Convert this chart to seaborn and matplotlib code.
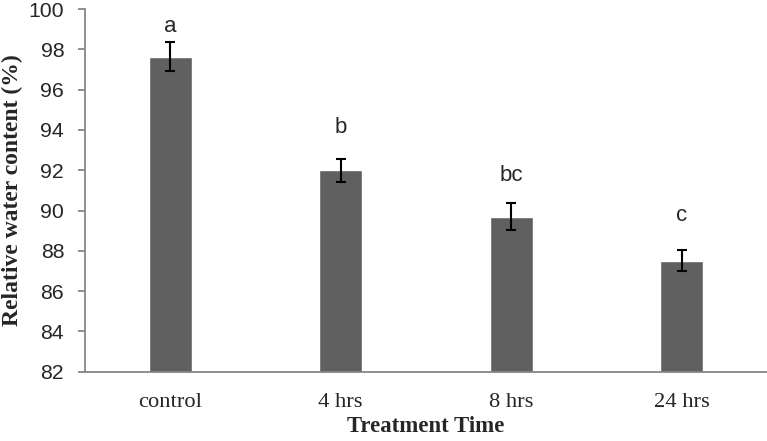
import pandas as pd
import numpy as np
import matplotlib
matplotlib.use('Agg')
import matplotlib.pyplot as plt
import seaborn as sns

# Data
treatments = ['control', '4 hrs', '8 hrs', '24 hrs']
rwc_mean = [97.63, 92.0, 89.69, 87.51]
rwc_err = [0.71, 0.58, 0.68, 0.51]
letters = ['a', 'b', 'bc', 'c']
letter_y = [99.15, 94.1, 91.75, 89.75]

BAR_COLOR = '#606060'
AXIS_COLOR = '#868686'

df = pd.DataFrame({'Treatment': treatments, 'RWC': rwc_mean})

sns.set_style('white')
fig = plt.figure(figsize=(7.67, 4.41), dpi=100)
ax = fig.add_axes([85 / 767, 1 - 371.7 / 441, 1 - 85 / 767, (371.7 - 9) / 441])

sns.barplot(data=df, x='Treatment', y='RWC', color=BAR_COLOR, width=0.25,
            saturation=1, ax=ax, errorbar=None)
ax.errorbar(np.arange(len(treatments)), rwc_mean, yerr=rwc_err, fmt='none',
            ecolor='black', elinewidth=1.5, capsize=3.6, capthick=1.5, zorder=3)

for i, (lab, y) in enumerate(zip(letters, letter_y)):
    ax.text(i, y, lab, ha='center', va='center', fontsize=16,
            family='Liberation Sans')

ax.set_ylim(82, 100)
ax.set_yticks(np.arange(82, 101, 2))
ax.set_xlim(-0.5, 3.5)

for s in ['top', 'right']:
    ax.spines[s].set_visible(False)
for s in ['left', 'bottom']:
    ax.spines[s].set_color(AXIS_COLOR)
    ax.spines[s].set_linewidth(1.3)

ax.tick_params(axis='y', direction='out', length=5, width=1.3, color=AXIS_COLOR,
               pad=10, left=True)
ax.tick_params(axis='x', length=0, pad=15)
for t in ax.get_yticklabels():
    t.set_family('Liberation Sans')
    t.set_fontsize(15.3)
for t in ax.get_xticklabels():
    t.set_family('Liberation Serif')
    t.set_fontsize(16.2)

ax.set_xlabel('Treatment Time', family='Liberation Serif', fontweight='bold',
              fontsize=16.4, labelpad=3)
ax.set_ylabel('Relative water content (%)', family='Liberation Serif',
              fontweight='bold', fontsize=17, labelpad=4)

fig.savefig('out.png', dpi=100)
